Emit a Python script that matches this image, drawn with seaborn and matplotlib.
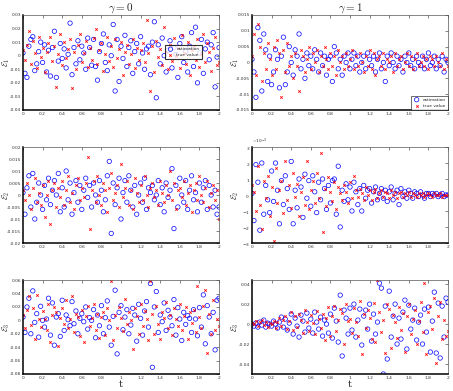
# Estimation error vs true value, gamma = 0 / gamma = 1
import seaborn as sns
import matplotlib
matplotlib.use("Agg")
import matplotlib.pyplot as plt
import matplotlib.ticker as mticker
import numpy as np

# Data (eps1..eps3 in units of 1e-3)
p1_est = [2, -13, -16, 7, 12, 14, -11, -6, 3, 10,
          -5, 8, -12, 4, -15, 6, 18, -16, -4, 9,
          -2, 5, -9, 1, 24, -14, 6, -6, 11, -3,
          7, 2, -10, 13, 6, -7, 12, -8, -18, 3,
          9, 16, -5, -11, 8, 0, 23, -26, 12, -19,
          7, -2, 15, -8, 6, 11, -13, 3, 9, -6,
          14, 2, -10, 5, 7, -14, 10, 25, -31, 8,
          -6, 13, 0, -12, 4, 11, -9, 6, 1, -16,
          9, 14, -5, 3, -12, 7, 17, -8, 21, -20,
          2, 12, -13, 5, 10, -3, 8, 17, -23, -1, 6]
p1_true = [4, -3, 8, 18, -6, 11, 2, -9, 14, -1,
           6, -12, 3, 9, 14, -4, 7, -23, 1, 16,
           -7, 10, -2, 5, 12, -24, 3, -10, 8, 16,
           -5, 2, 11, -8, 6, -3, 13, 20, -6, 4,
           9, -11, 1, 14, -4, 7, -8, 12, -2, 5,
           10, -14, 3, 8, -6, 1, 12, -9, 6, -3,
           4, 9, -5, 26, 2, -26, 7, -12, 11, -1,
           5, -7, 21, 3, -10, 8, -4, 13, 0, 6,
           -9, 15, 2, -6, 10, -14, 4, 7, -3, 12,
           -8, 1, 16, -5, 9, 3, -11, 6, 14, -7, -5]

p2_est = [1, -3, -11, 11, 7, -9, 9, 4, -6, 2,
          -7, -3, 4, 1, -8, 2, 8, -7, -3, 5,
          0, -4, 4, 2, 9, -2, 1, -5, 3, -1,
          2, -2, 4, 1, -3, 3, -1, 2, -4, 1,
          2, -6, 5, 3, -2, 1, -4, 2, 0, 3,
          -2, 1, 3, -1, 2, -3, 0, 2, -2, 3,
          1, -1, 2, -3, 1, 3, -2, 0, -6, 2,
          -1, 3, 0, -2, 2, -1, 1, -3, 2, 0,
          3, -1, 1, -2, 2, 0, -1, 2, -2, 1,
          3, -1, 0, 2, -2, 1, -1, 2, -3, 1, 0]
p2_true = [2, 9, -4, 12, 5, -6, 3, -2, 6, 1,
           -4, 5, -2, 7, 3, -11, 4, -3, 6, -1,
           2, -5, 3, -1, -9, 4, 2, -3, 1, 5,
           -2, 3, 0, 4, -3, 2, -1, 5, 1, -2,
           3, -1, 2, -4, 4, 0, 2, -2, 3, -1,
           1, 4, -2, 2, -1, 3, 0, -3, 2, -1,
           4, -2, 3, -4, 1, 2, -1, 3, -2, 1,
           0, 2, -3, 3, -1, 1, 2, -2, 0, 3,
           -1, 2, -2, 1, 3, -1, 0, 2, -1, 1,
           -2, 2, 1, -1, 2, 0, -1, 3, -2, 1, -1]

p3_est = [1, -8, 3, 8, -5, 9, -10, -3, 5, 0,
          -6, 4, -2, 7, -4, 2, 6, 0, 9, -7,
          3, -5, 10, -2, 5, -8, 1, 6, -3, 4,
          -6, 2, 7, -1, 4, -5, 5, 0, -3, 6,
          2, -7, -2, 8, 14, -16, 5, -4, 3, 7,
          -10, 1, 6, -3, 8, 2, -5, 4, -8, 0,
          5, -3, 7, -6, 3, 1, 4, -2, 0, 6,
          -4, 3, -7, 5, -1, 2, 11, -14, 4, -5,
          7, 0, -3, 6, -6, 2, 8, -2, 1, -7,
          5, -3, 3, 6, -6, 4, 0, -5, 2, -8, -5]
p3_true = [2, -2, 5, 0, -6, 3, 7, -3, 1, -4,
           4, -9, 0, 6, -12, 2, 5, -5, 3, -1,
           6, -4, 2, 8, -3, 1, -6, 4, 7, -2,
           3, -1, 5, 16, -14, 2, 6, -3, 8, 0,
           -4, 5, 2, -7, 3, 9, -2, 1, 4, -5,
           13, -1, 3, 6, -4, 2, -6, 7, 1, -3,
           4, -2, 8, 0, -5, 3, 5, -1, 2, -4,
           6, 1, -3, 4, 0, 10, -2, 5, -6, 2,
           3, -1, 6, -4, 1, 4, -7, 2, 5, -2,
           8, 0, -3, 3, 6, -5, 1, 4, -2, 2, -10]

p4_est = [0.1, -1.6, 1.9, 0.8, -2.2, 2.0, -1.2, 0.6, -0.3, -1.1,
          1.5, -0.4, 2.0, 0.3, -1.8, 0.9, -0.6, 1.2, 0.4, -0.9,
          2.1, -1.8, 0.3, -0.8, 1.0, 0.5, -1.4, 1.3, -0.2, 0.9,
          -0.7, 1.2, 0.2, -1.1, 0.8, -0.3, 1.0, 0.4, -0.9, 0.6,
          -0.5, 0.9, 1.0, -1.2, 1.8, -2.0, 0.3, -0.4, 0.7, -0.3,
          0.5, -1.0, 0.8, 0.2, -0.6, 0.4, -1.0, 0.6, -0.2, 0.3,
          0.4, -0.5, 0.2, 0.5, -0.3, 0.1, 0.4, -0.2, 0.3, -0.4,
          0.2, 0.5, -0.3, 0.1, 0.3, -0.6, 0.4, -0.1, 0.2, -0.2,
          0.3, 0.1, -0.2, 0.2, 0.1, -0.1, 0.2, 0.0, -0.2, 0.1,
          0.1, -0.1, 0.1, 0.0, 0.1, -0.1, 0.0, 0.1, -0.1, 0.0, 0.0]
p4_true = [0.6, 0.2, -1.0, 1.8, -0.6, -2.1, 0.9, -0.2, 1.2, -1.3,
           0.5, -2.9, 1.7, -0.5, 0.3, 0.9, -1.1, 2.1, -0.3, 0.6,
           -0.8, 1.4, -0.1, 0.7, -1.3, 0.2, 1.1, -0.6, 2.1, -0.9,
           0.3, 0.9, -0.5, 1.4, -0.2, 2.6, -2.3, 0.4, -0.7, 1.1,
           0.2, -0.4, 0.8, -0.9, 0.5, 0.1, -0.3, 0.6, 0.2, -0.5,
           0.8, -0.2, 1.2, 0.3, -0.1, 0.4, 0.1, -0.3, 0.5, 0.0,
           0.3, -0.3, 0.2, 0.4, -0.2, 0.1, 0.3, -0.1, 0.2, 0.1,
           -0.2, 0.3, 0.0, 0.2, -0.2, 0.1, 0.2, -0.1, 0.1, 0.0,
           0.2, -0.1, 0.1, 0.0, -0.1, 0.1, 0.0, 0.1, -0.1, 0.0,
           0.1, 0.0, -0.1, 0.1, 0.0, 0.0, 0.1, -0.1, 0.0, 0.0, 0.0]

p5_est = [5, -18, 20, 33, -20, 44, -3, 10, -25, 21,
          0, -10, 2, 33, -22, 26, -37, 5, 10, -24,
          30, -15, 8, 1, -8, 28, -5, 14, -20, 3,
          10, -2, 20, -13, 4, 0, 16, -26, 8, -8,
          22, -20, 4, 29, -10, -37, 6, 45, -50, 12,
          22, -14, 5, 16, -20, -7, 18, 8, -31, 24,
          3, -22, 14, 28, -10, 55, -70, 20, 43, -18,
          8, -2, 26, -15, 15, 5, -8, 31, -22, 19,
          2, -30, 12, -6, 7, 3, -18, 16, 2, -23,
          19, -10, 38, -35, 22, 5, -20, 12, -44, 30, 33]
p5_true = [8, -12, 15, 36, -7, 18, -28, 38, 2, -10,
           14, 2, -15, 24, -33, 8, 20, 12, -38, 4,
           18, -6, 30, -12, 2, 37, -18, 10, 5, -24,
           16, -32, 7, 22, -8, 3, 24, -14, 10, -26,
           5, 12, -22, 18, 1, 58, -30, 8, -12, 20,
           3, -16, 32, -5, 12, 0, -42, 18, 6, -20,
           25, -8, 14, 2, -30, 58, 10, -20, 22, -5,
           -28, 13, 4, 28, -12, 8, -22, 18, 2, -9,
           24, -15, 6, 20, -28, 12, -4, 16, -18, 51,
           5, -12, 22, 45, -48, 10, -20, 30, -15, 2, -8]

p6_est = [0, -2, 1, -3, 2, -1, 4, -3, 1, 0,
          -2, 3, 0, -4, 2, 7, -3, 5, -6, 1,
          10, -10, 6, -2, -13, 9, 3, -8, 11, -4,
          5, -9, 12, 2, -5, 7, -12, 4, 0, -9,
          10, -14, 16, 3, -18, 29, -32, 14, 6, -10,
          16, -6, 20, -13, 4, 15, -21, 8, 14, -5,
          20, -17, 10, -10, 2, 41, 36, -50, 18, -35,
          33, -13, 8, 20, -20, 6, -15, 12, 24, -25,
          19, -5, 4, 16, -16, 2, 9, -20, 15, -8,
          17, -28, 3, 32, -29, 21, -34, 18, -13, 26, 22]
p6_true = [1, 0, 3, -2, 2, 4, -1, 2, -3, 1,
           0, 3, -4, 2, 6, -2, 4, 8, -5, 3,
           12, -6, 8, -3, 10, 4, -9, 14, 2, -7,
           9, 1, -10, 13, 5, -4, 10, -16, 6, 17,
           -12, 8, 18, -7, 4, 15, 11, -20, 20, 3,
           5, -9, 16, 2, -12, 23, -30, 10, -4, 14,
           6, -15, 21, -18, 44, 12, -8, 4, -29, 20,
           15, -24, 9, 2, -14, 17, -6, 11, -28, 8,
           20, -10, 5, 14, -20, 3, 22, -8, 41, -30,
           12, 18, -5, 26, -39, 8, 22, -15, 4, -12, -7]

titles = [r"$\gamma = 0$", r"$\gamma = 1$"]
ylabels = [r"$\mathcal{E}_1$", r"$\mathcal{E}_2$", r"$\mathcal{E}_3$"]
panels = [[(p1_est, p1_true), (p2_est, p2_true)],
          [(p3_est, p3_true), (p4_est, p4_true)],
          [(p5_est, p5_true), (p6_est, p6_true)]]
ylims = [[(-0.04, 0.03), (-0.015, 0.015)],
         [(-0.02, 0.02), (-0.003, 0.003)],
         [(-0.08, 0.06), (-0.05, 0.044)]]
ysteps = [[0.01, 0.005], [0.005, 0.001], [0.02, 0.02]]

sns.set_style("white")
plt.rcParams["mathtext.fontset"] = "cm"

fig = plt.figure(figsize=(4.53, 3.91), dpi=100)
lefts = [0.0508, 0.5563]
rows = [(0.7187, 0.243), (0.3785, 0.2455), (0.0435, 0.240)]

fmt = mticker.FuncFormatter(lambda v, p: f"{v:g}")

for r in range(3):
    for c in range(2):
        ax = fig.add_axes([lefts[c], rows[r][0], 0.4327, rows[r][1]])
        est, true = panels[r][c]
        est = np.array(est) * 1e-3
        true = np.array(true) * 1e-3
        t_est = np.linspace(0, 2, len(est))
        t_true = np.linspace(0, 2, len(true))
        sns.scatterplot(x=t_est, y=est, ax=ax, marker="o", s=10,
                        fc="none", ec="blue", linewidth=0.5,
                        label="estimation")
        sns.scatterplot(x=t_true, y=true, ax=ax, marker="x", s=3,
                        color="red", linewidth=0.6, label="true value")
        ax.set_xlim(0, 2)
        ax.set_ylim(*ylims[r][c])
        ax.xaxis.set_major_locator(mticker.MultipleLocator(0.2))
        ax.yaxis.set_major_locator(mticker.MultipleLocator(ysteps[r][c]))
        ax.xaxis.set_major_formatter(fmt)
        if r == 1 and c == 1:
            ax.ticklabel_format(axis="y", style="sci", scilimits=(0, 0),
                                useMathText=True)
            ax.yaxis.get_offset_text().set_fontsize(3.2)
        else:
            ax.yaxis.set_major_formatter(fmt)
        ax.tick_params(direction="in", length=2, width=0.4, labelsize=3.2,
                       labelcolor="#333333", pad=1.5, top=True, right=True)
        for side, sp in ax.spines.items():
            if side in ("left", "bottom"):
                sp.set_linewidth(1.1)
                sp.set_color("black")
            else:
                sp.set_linewidth(0.5)
                sp.set_color("#555555")
        ax.set_ylabel(ylabels[r], fontsize=6)
        ax.yaxis.set_label_coords(-0.058, 0.5)
        if r == 0:
            ax.set_title(titles[c], fontsize=8, pad=3)
        if r == 2:
            ax.set_xlabel("t", fontsize=7, labelpad=0, family="serif")

        if r == 0 and c == 0:
            leg = ax.legend(loc="upper left", bbox_to_anchor=(0.724, 0.684),
                            fontsize=3.2, frameon=True, fancybox=False,
                            borderpad=0.5, handletextpad=0.6, labelspacing=0.4,
                            borderaxespad=0, handlelength=1.5)
            leg.get_frame().set_edgecolor("black")
            leg.get_frame().set_linewidth(0.8)
        elif r == 0 and c == 1:
            leg = ax.legend(loc="lower right", fontsize=3.2, frameon=True,
                            fancybox=False, borderpad=0.5, handletextpad=0.6,
                            labelspacing=0.4, borderaxespad=0, handlelength=1.5)
            leg.get_frame().set_edgecolor("black")
            leg.get_frame().set_linewidth(0.5)
        else:
            ax.get_legend().remove()

fig.savefig("out.png", dpi=100)
